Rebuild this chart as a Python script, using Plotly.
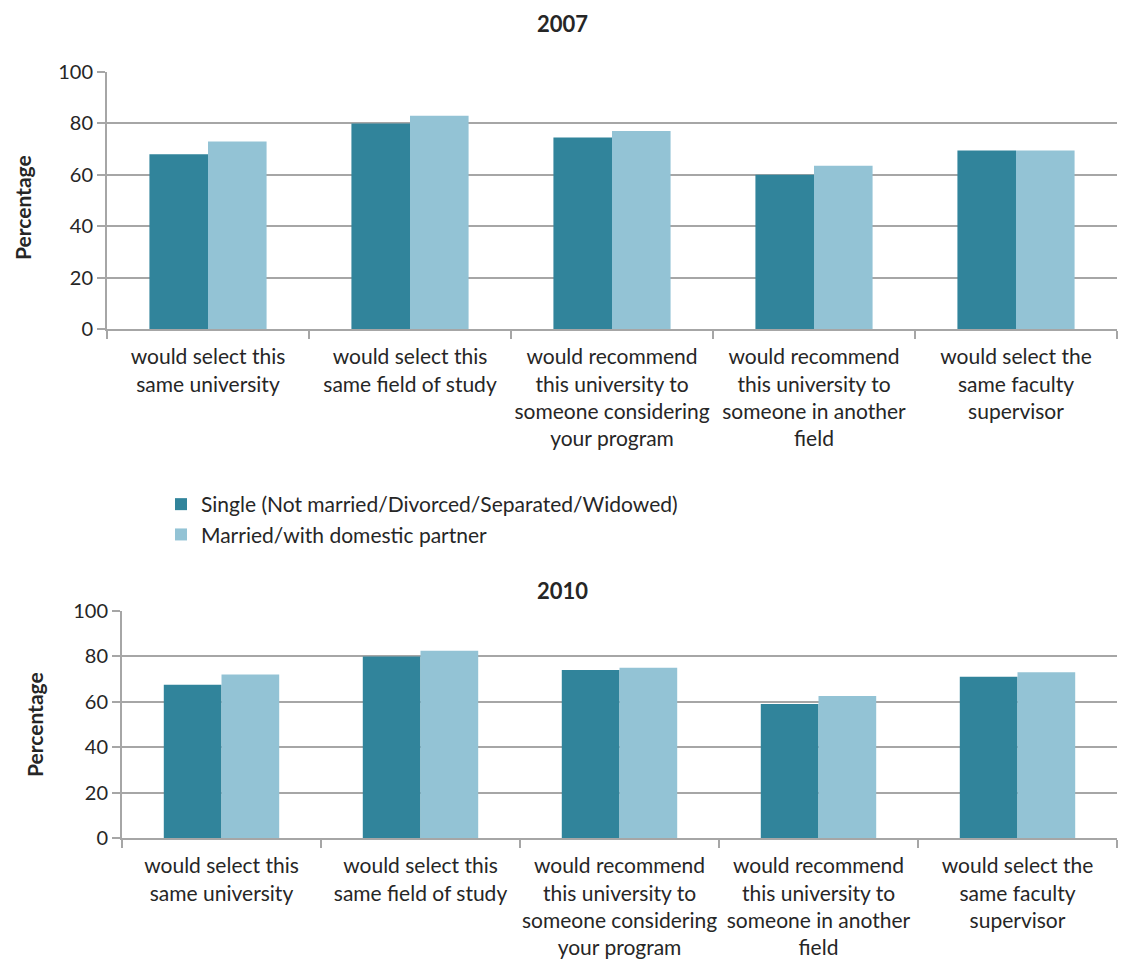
import plotly.graph_objects as go

# Survey items (category axis), with manual line breaks for the tick text
categories = [
    "would select this<br>same university",
    "would select this<br>same field of study",
    "would recommend<br>this university to<br>someone considering<br>your program",
    "would recommend<br>this university to<br>someone in another<br>field",
    "would select the<br>same faculty<br>supervisor",
]

series_names = [
    "Single (Not married/Divorced/Separated/Widowed)",
    "Married/with domestic partner",
]

# Percentages by marital status
single_2007 = [68, 80, 74.5, 60, 69.5]
married_2007 = [73, 83, 77, 63.5, 69.5]
single_2010 = [67.5, 80, 74, 59, 71]
married_2010 = [72, 82.5, 75, 62.5, 73]

y_ticks = [0, 20, 40, 60, 80, 100]

DARK = "#31849B"
LIGHT = "#93C3D5"
GRID = "#A6A6A6"
TEXT = "#262626"
FONT = "Lato"

W, H = 1125, 963


def px_x(p):
    return p / W


def px_y(p):
    return 1 - p / H


fig = go.Figure()

panels = [
    ("x", "y", single_2007, married_2007, True),
    ("x2", "y2", single_2010, married_2010, False),
]
for xa, ya, s_vals, m_vals, show in panels:
    fig.add_trace(go.Bar(x=categories, y=s_vals, name=series_names[0],
                         marker=dict(color=DARK, line=dict(width=0)),
                         xaxis=xa, yaxis=ya, showlegend=show))
    fig.add_trace(go.Bar(x=categories, y=m_vals, name=series_names[1],
                         marker=dict(color=LIGHT, line=dict(width=0)),
                         xaxis=xa, yaxis=ya, showlegend=show))

xaxis_common = dict(
    type="category", automargin=False, tickangle=0,
    showline=True, linecolor=GRID, linewidth=2,
    ticks="outside", tickson="boundaries", ticklen=8, tickcolor=GRID, tickwidth=2,
    ticklabelstandoff=8,
    showgrid=False,
    tickfont=dict(family=FONT, size=21, color=TEXT),
    fixedrange=True,
)
yaxis_common = dict(
    range=[0, 100], tickvals=y_ticks, automargin=False,
    showline=True, linecolor=GRID, linewidth=2,
    ticks="outside", ticklen=8, tickcolor=GRID, tickwidth=2,
    showgrid=True, gridcolor=GRID, gridwidth=2,
    zeroline=False,
    tickfont=dict(family=FONT, size=20, color=TEXT),
    fixedrange=True,
)

fig.update_layout(
    width=W, height=H,
    margin=dict(l=0, r=0, t=0, b=0, autoexpand=False),
    paper_bgcolor="white", plot_bgcolor="white",
    barmode="group", bargap=0.42, bargroupgap=0,
    xaxis=dict(domain=[px_x(107), px_x(1117)], anchor="y", **xaxis_common),
    yaxis=dict(domain=[px_y(329), px_y(72)], anchor="x", **yaxis_common),
    xaxis2=dict(domain=[px_x(122), px_x(1117)], anchor="y2", **xaxis_common),
    yaxis2=dict(domain=[px_y(838), px_y(611)], anchor="x2", **yaxis_common),
    legend=dict(
        x=px_x(161), y=px_y(484), xanchor="left", yanchor="top",
        orientation="v", bgcolor="rgba(0,0,0,0)",
        font=dict(family=FONT, size=21, color=TEXT),
        tracegroupgap=4,
    ),
    font=dict(family=FONT, color=TEXT),
)

# Panel titles
for text, y in [("2007", 23), ("2010", 590)]:
    fig.add_annotation(text="<b>%s</b>" % text, x=0.5, y=px_y(y), xref="paper", yref="paper",
                       showarrow=False, font=dict(family=FONT, size=22, color=TEXT),
                       xanchor="center", yanchor="middle")

# Y-axis titles
for x, y in [(22, 208), (34, 725)]:
    fig.add_annotation(text="<b>Percentage</b>", x=px_x(x), y=px_y(y), xref="paper", yref="paper",
                       showarrow=False, textangle=-90, font=dict(family=FONT, size=21, color=TEXT),
                       xanchor="center", yanchor="middle")

fig.write_html("out.html")
